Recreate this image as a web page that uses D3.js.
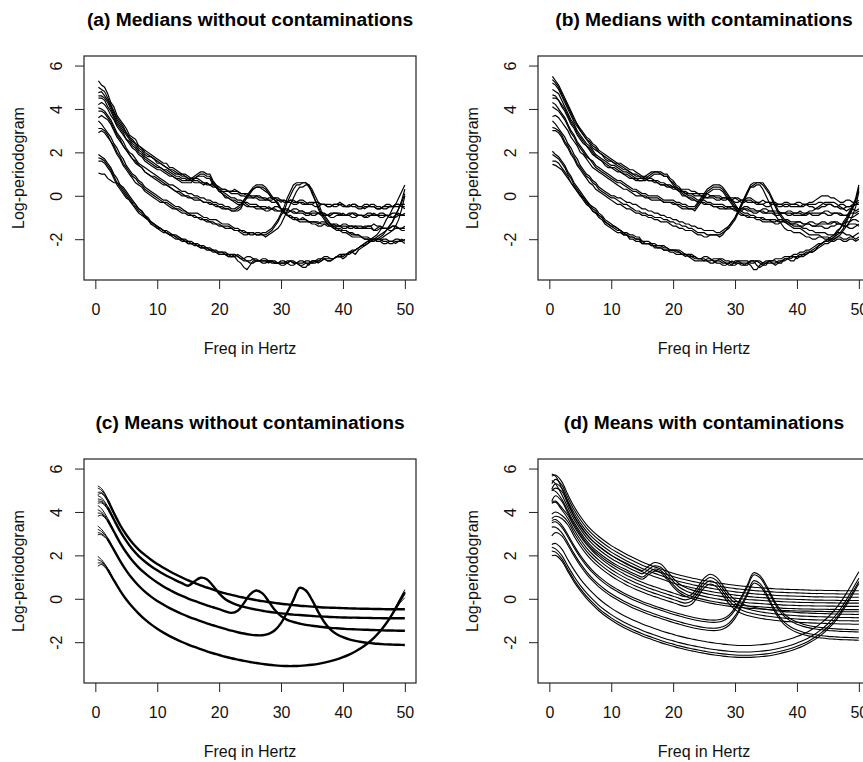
<!DOCTYPE html>
<html><head><meta charset="utf-8">
<script src="https://cdn.jsdelivr.net/npm/d3@7"></script>
<style>
body{margin:0;background:#fff}
svg{display:block}
</style>
</head><body>
<svg id="chart" width="863" height="762"></svg>
<script>
// ---------------- data ----------------
// frequency grid of the smoothed mean curves (panels c, d)
const freqs = [0.4,1,2,3,4,5,6,7,8,9,10,11,12,13,14,15,16,17,18,19,20,21,22,23,24,25,26,27,28,29,30,31,32,33,34,35,36,37,38,39,40,41,42,43,44,45,46,47,48,49,50];
// frequency grid of the running-median curves (panels a, b)
const medFreqs = [0.5,1,1.5,2,2.5,3,3.5,4,4.5,5, 5.5,6,6.5,7,7.5,8,8.5,9,9.5,10, 10.5,11,11.5,12,12.5,13,13.5,14,14.5,15, 15.5,16,16.5,17,17.5,18,18.5,19,19.5,20, 20.5,21,21.5,22,22.5,23,23.5,24,24.5,25, 25.5,26,26.5,27,27.5,28,28.5,29,29.5,30, 30.5,31,31.5,32,32.5,33,33.5,34,34.5,35, 35.5,36,36.5,37,37.5,38,38.5,39,39.5,40, 40.5,41,41.5,42,42.5,43,43.5,44,44.5,45, 45.5,46,46.5,47,47.5,48,48.5,49,49.5,50];
const xTicks = [0,10,20,30,40,50];
const yTicks = [-2,0,2,4,6];
const titles = ["(a) Medians without contaminations","(b) Medians with contaminations","(c) Means without contaminations","(d) Means with contaminations"];
const xLabel = "Freq in Hertz";
const yLabel = "Log-periodogram";

// (a) medians without contaminations
const a1 = [5.3,5.1,5.0,4.7,4.3,4.1,3.7,3.5,3.3,3.1, 2.8,2.7,2.6,2.3,2.2,2.1,2.0,1.9,1.8,1.7, 1.6,1.5,1.5,1.3,1.3,1.2,1.1,1.0,1.0,0.9, 0.8,0.8,0.8,0.7,0.6,0.5,0.5,0.5,0.4,0.3, 0.3,0.3,0.2,0.2,0.3,0.2,0.1,0.1,0.1,0.0, 0.0,0.0,-0.1,-0.1,-0.1,-0.2,-0.2,-0.1,-0.1,-0.2, -0.3,-0.3,-0.2,-0.3,-0.3,-0.2,-0.2,-0.3,-0.4,-0.4, -0.3,-0.3,-0.4,-0.4,-0.5,-0.5,-0.4,-0.4,-0.3,-0.4, -0.5,-0.5,-0.4,-0.4,-0.5,-0.5,-0.6,-0.5,-0.4,-0.4, -0.5,-0.5,-0.6,-0.6,-0.5,-0.5,-0.4,-0.4,-0.5,-0.5];
const a2 = [5.0,4.9,4.8,4.5,4.2,3.9,3.6,3.4,3.2,2.9, 2.7,2.5,2.4,2.3,2.2,2.0,1.9,1.8,1.7,1.6, 1.5,1.4,1.3,1.2,1.2,1.1,1.0,1.0,0.9,0.8, 0.8,0.7,0.7,0.6,0.6,0.6,0.5,0.6,0.5,0.4, 0.3,0.3,0.2,0.2,0.2,0.2,0.1,0.1,0.0,0.0, -0.1,0.0,0.0,-0.1,-0.2,-0.1,-0.1,-0.1,-0.2,-0.2, -0.2,-0.3,-0.2,-0.2,-0.3,-0.3,-0.4,-0.4,-0.3,-0.3, -0.3,-0.3,-0.4,-0.4,-0.5,-0.5,-0.4,-0.4,-0.4,-0.4, -0.5,-0.5,-0.4,-0.4,-0.5,-0.5,-0.4,-0.4,-0.5,-0.5, -0.6,-0.6,-0.5,-0.5,-0.5,-0.5,-0.4,-0.4,-0.5,-0.6];
const a3 = [4.75,4.8,4.6,4.4,4.1,3.8,3.5,3.3,3.1,2.9, 2.7,2.6,2.4,2.2,2.1,1.9,1.8,1.8,1.7,1.5, 1.5,1.4,1.3,1.2,1.1,1.0,1.0,0.9,0.9,0.8, 0.7,0.6,0.6,0.6,0.5,0.6,0.5,0.4,0.4,0.2, 0.2,0.2,0.2,0.1,0.1,0.1,0.0,0.0,-0.1,-0.1, -0.1,-0.1,-0.2,-0.2,-0.2,-0.2,-0.3,-0.3,-0.2,-0.3, -0.2,-0.3,-0.3,-0.4,-0.4,-0.3,-0.3,-0.4,-0.4,-0.4, -0.5,-0.5,-0.4,-0.4,-0.4,-0.4,-0.5,-0.5,-0.4,-0.5, -0.5,-0.4,-0.5,-0.5,-0.6,-0.6,-0.5,-0.5,-0.5,-0.5, -0.6,-0.6,-0.5,-0.4,-0.4,-0.5,-0.5,-0.5,-0.4,-0.4];
const a4 = [4.6,4.6,4.5,4.3,4.0,3.7,3.4,3.2,3.0,2.8, 2.6,2.4,2.3,2.1,2.0,1.8,1.7,1.6,1.5,1.4, 1.3,1.2,1.2,1.1,1.0,0.9,0.9,0.8,0.8,0.7, 0.8,0.9,1.0,1.1,1.1,1.0,1.0,0.7,0.5,0.3, 0.2,0.1,0.0,-0.1,-0.1,-0.2,-0.2,-0.3,-0.3,-0.4, -0.4,-0.4,-0.5,-0.5,-0.5,-0.6,-0.6,-0.5,-0.5,-0.6, -0.6,-0.7,-0.7,-0.6,-0.6,-0.7,-0.7,-0.8,-0.8,-0.7, -0.7,-0.8,-0.8,-0.9,-0.9,-0.8,-0.8,-0.8,-0.8,-0.9, -0.9,-0.8,-0.8,-0.9,-0.9,-0.9,-0.9,-0.8,-0.8,-0.9, -0.9,-1.0,-1.0,-0.9,-0.9,-0.8,-0.8,-0.9,-0.9,-0.8];
const a5 = [4.5,4.5,4.4,4.1,3.9,3.6,3.3,3.1,2.9,2.6, 2.5,2.3,2.2,2.0,1.9,1.7,1.6,1.5,1.4,1.3, 1.3,1.2,1.1,1.0,0.9,0.8,0.8,0.7,0.7,0.7, 0.7,0.8,0.9,1.0,1.0,0.9,0.9,0.6,0.4,0.2, 0.1,0.0,-0.1,-0.2,-0.2,-0.3,-0.3,-0.3,-0.4,-0.5, -0.5,-0.5,-0.5,-0.6,-0.6,-0.5,-0.6,-0.7,-0.7,-0.7, -0.6,-0.6,-0.7,-0.8,-0.8,-0.7,-0.7,-0.8,-0.8,-0.9, -0.9,-0.8,-0.8,-0.8,-0.9,-0.9,-0.8,-0.8,-0.9,-0.8, -0.9,-0.9,-1.0,-1.0,-0.9,-0.9,-1.0,-0.9,-0.9,-0.8, -0.9,-0.9,-0.9,-0.9,-1.0,-1.0,-0.9,-0.8,-0.9,-0.9];
const a6 = [4.2,4.3,4.2,4.0,3.7,3.5,3.2,3.0,2.8,2.6, 2.4,2.2,2.1,1.9,1.8,1.6,1.5,1.4,1.3,1.2, 1.2,1.1,1.0,0.9,0.9,0.8,0.7,0.6,0.6,0.6, 0.6,0.8,0.9,0.9,0.9,0.8,0.8,0.5,0.4,0.2, 0.1,-0.1,-0.1,-0.2,-0.3,-0.4,-0.4,-0.4,-0.5,-0.5, -0.5,-0.6,-0.6,-0.6,-0.7,-0.7,-0.6,-0.6,-0.7,-0.7, -0.8,-0.8,-0.7,-0.7,-0.8,-0.8,-0.8,-0.9,-0.9,-0.8, -0.8,-0.8,-0.9,-0.9,-0.9,-1.0,-1.0,-0.9,-0.9,-0.9, -0.9,-0.9,-0.8,-0.8,-0.9,-0.9,-1.0,-1.0,-0.9,-0.9, -0.9,-0.8,-0.8,-0.9,-0.9,-1.0,-1.0,-0.9,-0.9,-0.9];
const a7 = [4.05,4.0,3.9,3.7,3.5,3.2,2.9,2.7,2.5,2.2, 2.0,1.9,1.7,1.5,1.4,1.3,1.2,1.1,1.0,0.9, 0.8,0.7,0.6,0.5,0.5,0.4,0.3,0.2,0.2,0.1, 0.1,0.0,0.0,-0.1,-0.1,-0.2,-0.2,-0.3,-0.3,-0.4, -0.4,-0.5,-0.5,-0.6,-0.6,-0.5,-0.4,-0.2,0.0,0.2, 0.4,0.5,0.5,0.5,0.4,0.2,0.0,-0.2,-0.3,-0.6, -0.7,-0.9,-0.9,-1.0,-1.0,-1.1,-1.1,-1.1,-1.2,-1.2, -1.2,-1.3,-1.2,-1.2,-1.3,-1.3,-1.3,-1.4,-1.4,-1.3, -1.3,-1.4,-1.4,-1.4,-1.5,-1.5,-1.4,-1.4,-1.4,-1.3, -1.4,-1.4,-1.5,-1.5,-1.5,-1.4,-1.4,-1.5,-1.5,-1.4];
const a8 = [3.9,3.9,3.8,3.6,3.4,3.1,2.8,2.6,2.3,2.1, 1.9,1.7,1.6,1.4,1.3,1.1,1.0,0.9,0.9,0.8, 0.7,0.6,0.5,0.4,0.3,0.2,0.2,0.1,0.0,0.0, -0.1,-0.2,-0.2,-0.2,-0.3,-0.3,-0.3,-0.4,-0.5,-0.5, -0.5,-0.6,-0.6,-0.7,-0.7,-0.6,-0.5,-0.2,0.0,0.2, 0.3,0.4,0.4,0.4,0.3,0.1,-0.1,-0.2,-0.4,-0.6, -0.7,-0.9,-1.0,-1.1,-1.1,-1.1,-1.0,-1.1,-1.2,-1.2, -1.2,-1.2,-1.3,-1.3,-1.4,-1.4,-1.3,-1.3,-1.4,-1.4, -1.4,-1.5,-1.5,-1.4,-1.4,-1.4,-1.5,-1.5,-1.5,-1.6, -1.5,-1.4,-1.5,-1.5,-1.6,-1.6,-1.5,-1.5,-1.5,-1.5];
const a9 = [3.6,3.7,3.6,3.5,3.3,3.0,2.7,2.5,2.3,2.1, 1.9,1.7,1.5,1.4,1.3,1.1,1.0,0.9,0.8,0.7, 0.6,0.5,0.5,0.4,0.3,0.2,0.1,0.0,0.0,-0.1, -0.1,-0.1,-0.1,-0.2,-0.3,-0.3,-0.4,-0.4,-0.4,-0.5, -0.6,-0.6,-0.6,-0.7,-0.7,-0.7,-0.6,-0.3,-0.1,0.1, 0.3,0.4,0.4,0.3,0.2,0.1,-0.1,-0.2,-0.4,-0.6, -0.8,-0.9,-1.0,-1.0,-1.1,-1.2,-1.2,-1.2,-1.2,-1.3, -1.3,-1.4,-1.4,-1.3,-1.3,-1.4,-1.4,-1.4,-1.4,-1.5, -1.5,-1.4,-1.4,-1.5,-1.5,-1.5,-1.5,-1.4,-1.4,-1.6, -1.6,-1.5,-1.5,-1.5,-1.5,-1.4,-1.4,-1.5,-1.6,-1.6];
const a10 = [3.45,3.3,3.1,2.9,2.7,2.4,2.2,1.9,1.7,1.4, 1.2,1.0,0.9,0.7,0.6,0.4,0.3,0.2,0.1,0.0, -0.1,-0.2,-0.2,-0.3,-0.4,-0.5,-0.5,-0.6,-0.7,-0.8, -0.8,-0.8,-0.8,-0.9,-1.0,-1.0,-1.1,-1.1,-1.1,-1.2, -1.3,-1.3,-1.3,-1.4,-1.5,-1.5,-1.6,-1.6,-1.7,-1.7, -1.7,-1.8,-1.8,-1.7,-1.7,-1.6,-1.5,-1.3,-1.1,-0.8, -0.5,-0.1,0.2,0.5,0.6,0.6,0.6,0.6,0.5,0.1, -0.2,-0.5,-0.8,-1.0,-1.2,-1.3,-1.4,-1.5,-1.5,-1.6, -1.6,-1.7,-1.7,-1.8,-1.8,-1.9,-1.9,-1.9,-2.0,-2.0, -2.1,-2.1,-2.0,-2.0,-2.1,-2.1,-2.2,-2.1,-2.0,-2.1];
const a11 = [3.1,3.1,3.0,2.8,2.5,2.3,2.0,1.8,1.5,1.3, 1.1,0.9,0.8,0.6,0.5,0.3,0.2,0.1,0.0,-0.1, -0.2,-0.3,-0.3,-0.4,-0.5,-0.6,-0.6,-0.7,-0.7,-0.8, -0.9,-1.0,-1.0,-1.0,-1.1,-1.2,-1.2,-1.3,-1.3,-1.3, -1.4,-1.5,-1.5,-1.5,-1.6,-1.6,-1.7,-1.8,-1.8,-1.7, -1.7,-1.8,-1.8,-1.8,-1.8,-1.7,-1.6,-1.4,-1.2,-0.9, -0.7,-0.3,0.0,0.3,0.5,0.5,0.6,0.6,0.4,0.2, -0.2,-0.6,-0.9,-1.1,-1.3,-1.4,-1.5,-1.6,-1.6,-1.7, -1.7,-1.8,-1.9,-1.9,-1.9,-1.9,-2.0,-2.0,-2.1,-2.1, -2.0,-2.0,-2.1,-2.1,-2.2,-2.2,-2.1,-2.1,-2.1,-2.2];
const a12 = [2.9,3.0,2.9,2.7,2.5,2.2,1.9,1.7,1.4,1.2, 1.0,0.8,0.6,0.5,0.4,0.2,0.1,0.0,-0.1,-0.2, -0.3,-0.3,-0.4,-0.5,-0.6,-0.6,-0.7,-0.8,-0.8,-0.9, -0.9,-0.9,-1.0,-1.1,-1.1,-1.1,-1.2,-1.2,-1.3,-1.4, -1.4,-1.4,-1.4,-1.5,-1.6,-1.6,-1.6,-1.7,-1.7,-1.8, -1.8,-1.7,-1.7,-1.8,-1.9,-1.8,-1.7,-1.6,-1.5,-1.3, -1.0,-0.7,-0.4,-0.1,0.2,0.4,0.4,0.5,0.5,0.3, 0.0,-0.3,-0.7,-0.9,-1.1,-1.3,-1.5,-1.5,-1.6,-1.6, -1.6,-1.7,-1.8,-1.8,-1.8,-1.9,-2.0,-2.0,-2.0,-2.0, -2.1,-2.1,-2.2,-2.2,-2.1,-2.1,-2.0,-2.0,-2.1,-2.0];
const a13 = [1.9,1.8,1.7,1.5,1.3,1.0,0.8,0.5,0.3,0.1, -0.1,-0.3,-0.4,-0.6,-0.7,-0.9,-1.0,-1.2,-1.3,-1.4, -1.5,-1.6,-1.6,-1.7,-1.8,-1.8,-1.9,-2.0,-2.0,-2.1, -2.1,-2.2,-2.2,-2.3,-2.3,-2.4,-2.5,-2.5,-2.5,-2.6, -2.6,-2.6,-2.7,-2.7,-2.7,-2.8,-2.9,-2.9,-2.8,-2.8, -2.9,-3.0,-3.0,-3.0,-3.0,-3.1,-3.0,-3.0,-3.1,-3.1, -3.1,-3.1,-3.0,-3.0,-3.1,-3.2,-3.3,-3.3,-3.1,-3.0, -3.0,-3.1,-3.0,-2.9,-3.0,-3.0,-2.9,-2.8,-2.8,-2.7, -2.7,-2.6,-2.6,-2.5,-2.4,-2.3,-2.2,-2.1,-2.0,-1.9, -1.8,-1.6,-1.4,-1.1,-0.9,-0.6,-0.4,-0.1,0.2,0.5];
const a14 = [1.75,1.7,1.6,1.4,1.2,0.9,0.6,0.4,0.2,0.0, -0.2,-0.4,-0.5,-0.7,-0.8,-1.0,-1.1,-1.2,-1.3,-1.5, -1.5,-1.6,-1.7,-1.8,-1.8,-1.9,-1.9,-2.0,-2.1,-2.2, -2.2,-2.2,-2.3,-2.4,-2.4,-2.4,-2.5,-2.6,-2.6,-2.6, -2.6,-2.7,-2.8,-2.8,-2.8,-2.7,-2.8,-2.9,-3.0,-3.0, -2.9,-2.9,-3.0,-3.1,-3.1,-3.0,-3.0,-3.1,-3.1,-3.0, -3.0,-3.1,-3.2,-3.2,-3.1,-3.1,-3.1,-3.0,-3.0,-3.1, -3.1,-3.0,-2.9,-2.9,-3.0,-3.0,-2.9,-2.8,-2.8,-2.9, -2.8,-2.6,-2.6,-2.7,-2.5,-2.4,-2.3,-2.2,-2.1,-2.0, -1.9,-1.8,-1.7,-1.6,-1.4,-1.2,-0.9,-0.6,-0.2,0.3];
const a15 = [1.6,1.6,1.5,1.3,1.1,0.8,0.5,0.3,0.1,-0.1, -0.2,-0.4,-0.6,-0.8,-0.9,-1.0,-1.1,-1.3,-1.3,-1.4, -1.5,-1.6,-1.7,-1.8,-1.9,-2.0,-2.0,-2.0,-2.1,-2.1, -2.2,-2.3,-2.3,-2.3,-2.4,-2.5,-2.5,-2.5,-2.6,-2.7, -2.7,-2.7,-2.7,-2.8,-2.8,-3.0,-3.1,-3.3,-3.4,-3.2, -3.0,-3.0,-3.0,-2.9,-2.9,-3.0,-3.1,-3.1,-3.1,-3.2, -3.2,-3.1,-3.0,-3.1,-3.1,-3.0,-3.0,-3.1,-3.2,-3.0, -3.0,-3.0,-3.0,-2.9,-2.9,-2.9,-2.9,-2.8,-2.7,-2.7, -2.7,-2.6,-2.5,-2.5,-2.4,-2.3,-2.3,-2.2,-2.1,-2.0, -2.0,-1.9,-1.8,-1.6,-1.4,-1.2,-0.9,-0.6,-0.3,0.1];
const a16 = [1.05,1.0,1.0,0.8,0.7,0.6,0.6,0.5,0.4,0.2, 0.0,-0.2,-0.4,-0.6,-0.7,-0.9,-1.1,-1.3,-1.4,-1.5, -1.6,-1.7,-1.7,-1.8,-1.8,-1.9,-2.0,-2.1,-2.1,-2.2, -2.2,-2.2,-2.3,-2.4,-2.4,-2.4,-2.4,-2.5,-2.6,-2.7, -2.7,-2.7,-2.8,-2.8,-2.7,-2.8,-2.9,-3.0,-3.0,-3.1, -3.1,-3.0,-3.0,-3.0,-3.0,-3.0,-3.0,-3.1,-3.1,-3.1, -3.1,-3.0,-3.0,-3.1,-3.1,-3.2,-3.2,-3.1,-3.1,-3.1, -3.0,-2.9,-2.9,-2.8,-2.8,-2.9,-2.9,-2.8,-2.8,-2.8, -2.7,-2.7,-2.6,-2.5,-2.4,-2.3,-2.2,-2.1,-2.1,-2.0, -2.0,-2.0,-1.9,-1.8,-1.7,-1.6,-1.4,-1.1,-0.6,0.0];

// (b) medians with contaminations
const b1 = [5.5,5.3,5.1,4.8,4.5,4.2,3.9,3.6,3.3,3.1, 2.9,2.7,2.6,2.4,2.3,2.1,2.0,1.9,1.8,1.7, 1.6,1.5,1.5,1.4,1.3,1.2,1.2,1.1,1.0,0.9, 0.9,0.8,0.8,0.7,0.7,0.6,0.6,0.5,0.5,0.4, 0.4,0.3,0.3,0.3,0.3,0.2,0.2,0.1,0.1,0.1, 0.1,0.0,0.0,0.0,0.0,-0.1,-0.1,-0.1,-0.2,-0.1, -0.1,-0.2,-0.2,-0.1,-0.1,-0.2,-0.3,-0.3,-0.2,-0.3, -0.3,-0.3,-0.3,-0.4,-0.4,-0.3,-0.3,-0.4,-0.4,-0.3, -0.3,-0.4,-0.4,-0.3,-0.3,-0.2,-0.1,0.0,0.0,0.0, -0.1,-0.1,-0.2,-0.3,-0.3,-0.2,-0.2,-0.3,-0.3,-0.2];
const b2 = [5.35,5.2,5.0,4.7,4.4,4.1,3.8,3.5,3.3,3.0, 2.8,2.6,2.5,2.3,2.2,2.0,1.9,1.8,1.7,1.6, 1.5,1.5,1.4,1.3,1.2,1.1,1.0,1.0,0.9,0.9, 0.8,0.7,0.7,0.7,0.6,0.5,0.5,0.4,0.4,0.4, 0.3,0.2,0.2,0.2,0.1,0.1,0.1,0.1,0.0,-0.1, -0.1,0.0,0.0,-0.1,-0.1,-0.2,-0.2,-0.1,-0.1,-0.1, -0.2,-0.3,-0.3,-0.2,-0.2,-0.3,-0.3,-0.4,-0.4,-0.3, -0.3,-0.4,-0.4,-0.4,-0.4,-0.5,-0.5,-0.4,-0.4,-0.4, -0.5,-0.5,-0.4,-0.4,-0.4,-0.4,-0.3,-0.3,-0.4,-0.4, -0.4,-0.5,-0.5,-0.4,-0.4,-0.5,-0.5,-0.4,-0.4,-0.3];
const b3 = [5.2,5.1,4.9,4.6,4.3,4.0,3.7,3.4,3.2,3.0, 2.8,2.6,2.4,2.2,2.1,2.0,1.9,1.7,1.6,1.6, 1.5,1.4,1.3,1.2,1.2,1.1,1.0,0.9,0.9,0.8, 0.8,0.7,0.7,0.6,0.6,0.5,0.5,0.5,0.4,0.3, 0.3,0.3,0.2,0.1,0.1,0.1,0.0,0.0,0.0,0.0, -0.1,-0.1,-0.1,-0.2,-0.2,-0.1,-0.1,-0.2,-0.2,-0.3, -0.3,-0.2,-0.2,-0.3,-0.3,-0.3,-0.4,-0.4,-0.4,-0.5, -0.5,-0.4,-0.4,-0.5,-0.5,-0.4,-0.4,-0.5,-0.5,-0.5, -0.5,-0.4,-0.4,-0.5,-0.5,-0.6,-0.6,-0.5,-0.5,-0.4, -0.4,-0.5,-0.5,-0.6,-0.6,-0.5,-0.5,-0.5,-0.4,-0.4];
const b4 = [4.9,4.8,4.7,4.4,4.1,3.8,3.5,3.3,3.0,2.8, 2.6,2.4,2.3,2.1,1.9,1.8,1.7,1.6,1.5,1.4, 1.4,1.3,1.2,1.1,1.1,1.0,0.9,0.8,0.8,0.8, 0.9,1.0,1.1,1.1,1.1,1.1,1.0,1.0,0.8,0.7, 0.5,0.4,0.2,0.1,0.0,0.0,-0.1,-0.2,-0.2,-0.2, -0.3,-0.3,-0.4,-0.4,-0.4,-0.4,-0.5,-0.5,-0.5,-0.5, -0.6,-0.6,-0.5,-0.5,-0.6,-0.6,-0.7,-0.7,-0.6,-0.6, -0.7,-0.7,-0.7,-0.7,-0.8,-0.8,-0.7,-0.7,-0.8,-0.8, -0.7,-0.8,-0.8,-0.7,-0.7,-0.6,-0.5,-0.4,-0.3,-0.3, -0.3,-0.3,-0.4,-0.5,-0.6,-0.7,-0.6,-0.6,-0.7,-0.6];
const b5 = [4.65,4.6,4.4,4.2,4.0,3.7,3.4,3.2,2.9,2.7, 2.5,2.3,2.2,2.0,1.8,1.7,1.6,1.5,1.4,1.3, 1.3,1.2,1.1,1.0,1.0,0.9,0.8,0.8,0.7,0.7, 0.8,0.9,1.0,1.1,1.1,1.0,0.9,0.9,0.7,0.6, 0.4,0.3,0.1,0.0,-0.1,-0.1,-0.2,-0.3,-0.3,-0.3, -0.4,-0.4,-0.5,-0.5,-0.5,-0.5,-0.6,-0.6,-0.6,-0.6, -0.7,-0.7,-0.6,-0.6,-0.7,-0.7,-0.7,-0.7,-0.8,-0.8, -0.7,-0.7,-0.8,-0.8,-0.8,-0.8,-0.9,-0.9,-0.8,-0.8, -0.8,-0.9,-0.9,-0.8,-0.8,-0.8,-0.8,-0.8,-0.7,-0.7, -0.8,-0.8,-0.8,-0.8,-0.9,-0.9,-0.8,-0.8,-0.8,-0.7];
const b6 = [4.5,4.5,4.4,4.1,3.9,3.6,3.3,3.1,2.8,2.6, 2.4,2.3,2.1,1.9,1.8,1.7,1.6,1.4,1.3,1.3, 1.2,1.1,1.1,1.0,0.9,0.8,0.8,0.7,0.7,0.7, 0.7,0.8,0.9,1.0,1.0,1.0,0.9,0.9,0.7,0.5, 0.3,0.2,0.0,0.0,-0.1,-0.2,-0.2,-0.3,-0.3,-0.4, -0.4,-0.4,-0.5,-0.5,-0.6,-0.6,-0.6,-0.5,-0.6,-0.7, -0.7,-0.6,-0.6,-0.7,-0.7,-0.8,-0.8,-0.7,-0.7,-0.8, -0.8,-0.8,-0.9,-0.9,-0.8,-0.8,-0.8,-0.8,-0.9,-0.9, -0.9,-0.9,-0.8,-0.8,-0.9,-0.9,-0.9,-0.8,-0.8,-0.9, -0.9,-0.8,-0.8,-0.9,-0.9,-0.9,-1.0,-1.0,-0.9,-0.8];
const b7 = [4.3,4.2,4.0,3.8,3.6,3.3,3.0,2.8,2.5,2.3, 2.1,1.9,1.7,1.6,1.4,1.3,1.2,1.1,1.0,0.9, 0.8,0.7,0.7,0.6,0.5,0.4,0.3,0.3,0.2,0.1, 0.1,0.0,0.0,0.0,0.0,-0.1,-0.2,-0.2,-0.2,-0.2, -0.3,-0.3,-0.4,-0.4,-0.5,-0.5,-0.5,-0.3,-0.1,0.1, 0.3,0.4,0.5,0.5,0.5,0.4,0.2,0.0,-0.2,-0.4, -0.6,-0.7,-0.8,-0.8,-0.9,-0.9,-1.0,-1.0,-1.0,-1.1, -1.1,-1.1,-1.1,-1.2,-1.2,-1.1,-1.1,-1.2,-1.2,-1.2, -1.2,-1.3,-1.3,-1.2,-1.2,-1.3,-1.3,-1.2,-1.2,-1.3, -1.3,-1.2,-1.2,-1.3,-1.3,-1.2,-1.2,-1.1,-1.1,-1.2];
const b8 = [4.1,4.0,3.9,3.7,3.5,3.2,2.9,2.7,2.4,2.2, 2.0,1.8,1.7,1.5,1.3,1.2,1.1,1.0,0.9,0.8, 0.7,0.6,0.6,0.5,0.4,0.3,0.2,0.2,0.1,0.0, 0.0,-0.1,-0.1,-0.1,-0.1,-0.2,-0.3,-0.3,-0.3,-0.3, -0.4,-0.4,-0.5,-0.5,-0.6,-0.6,-0.6,-0.4,-0.2,0.0, 0.2,0.3,0.4,0.4,0.4,0.3,0.1,-0.1,-0.3,-0.5, -0.7,-0.8,-0.9,-0.9,-1.0,-1.0,-1.0,-1.0,-1.1,-1.1, -1.1,-1.2,-1.2,-1.1,-1.1,-1.2,-1.2,-1.3,-1.3,-1.2, -1.2,-1.3,-1.3,-1.3,-1.4,-1.4,-1.3,-1.3,-1.3,-1.3, -1.2,-1.2,-1.3,-1.3,-1.4,-1.4,-1.3,-1.3,-1.3,-1.4];
const b9 = [3.65,3.7,3.6,3.4,3.2,3.0,2.7,2.5,2.3,2.0, 1.9,1.7,1.5,1.3,1.2,1.1,1.0,0.9,0.8,0.7, 0.6,0.5,0.4,0.3,0.3,0.2,0.1,0.0,0.0,0.0, -0.1,-0.1,-0.2,-0.2,-0.2,-0.2,-0.3,-0.3,-0.3,-0.4, -0.4,-0.5,-0.6,-0.6,-0.6,-0.6,-0.7,-0.5,-0.3,-0.1, 0.1,0.2,0.3,0.3,0.3,0.2,0.0,-0.2,-0.4,-0.6, -0.8,-0.9,-0.9,-1.0,-1.0,-1.0,-1.1,-1.1,-1.2,-1.2, -1.2,-1.2,-1.3,-1.3,-1.2,-1.2,-1.3,-1.3,-1.3,-1.3, -1.4,-1.4,-1.3,-1.3,-1.4,-1.4,-1.4,-1.4,-1.5,-1.5, -1.4,-1.4,-1.3,-1.3,-1.4,-1.4,-1.5,-1.5,-1.4,-1.3];
const b10 = [3.45,3.3,3.1,2.9,2.7,2.4,2.2,1.9,1.7,1.4, 1.2,1.0,0.9,0.7,0.6,0.4,0.3,0.2,0.1,0.0, 0.0,-0.1,-0.1,-0.2,-0.3,-0.3,-0.4,-0.4,-0.5,-0.6, -0.6,-0.7,-0.7,-0.8,-0.8,-0.9,-0.9,-1.0,-1.0,-1.1, -1.1,-1.2,-1.2,-1.3,-1.3,-1.4,-1.4,-1.5,-1.5,-1.6, -1.6,-1.6,-1.6,-1.7,-1.7,-1.6,-1.5,-1.4,-1.2,-1.0, -0.7,-0.4,-0.1,0.2,0.5,0.6,0.6,0.6,0.6,0.4, 0.2,-0.1,-0.4,-0.7,-0.9,-1.1,-1.2,-1.3,-1.4,-1.4, -1.4,-1.5,-1.5,-1.6,-1.6,-1.7,-1.7,-1.7,-1.7,-1.8, -1.8,-1.8,-1.7,-1.7,-1.7,-1.8,-1.8,-1.9,-1.8,-1.7];
const b11 = [3.15,3.1,3.0,2.8,2.5,2.3,2.0,1.8,1.5,1.3, 1.1,0.9,0.8,0.6,0.5,0.3,0.2,0.1,0.0,-0.1, -0.1,-0.2,-0.3,-0.4,-0.4,-0.5,-0.6,-0.7,-0.7,-0.8, -0.8,-0.9,-0.9,-1.0,-1.0,-1.0,-1.1,-1.1,-1.2,-1.2, -1.3,-1.3,-1.4,-1.4,-1.5,-1.5,-1.6,-1.7,-1.7,-1.7, -1.8,-1.8,-1.8,-1.8,-1.9,-1.8,-1.6,-1.5,-1.3,-1.1, -0.8,-0.5,-0.2,0.1,0.4,0.5,0.6,0.6,0.5,0.3, 0.1,-0.2,-0.5,-0.8,-1.0,-1.2,-1.3,-1.4,-1.5,-1.5, -1.5,-1.6,-1.7,-1.8,-1.8,-1.8,-1.8,-1.9,-1.9,-1.9, -2.0,-2.0,-1.9,-1.9,-2.0,-2.0,-1.9,-1.9,-2.0,-1.9];
const b12 = [3.0,3.0,2.9,2.7,2.4,2.2,1.9,1.7,1.4,1.2, 1.0,0.8,0.6,0.5,0.3,0.2,0.1,0.0,-0.1,-0.2, -0.3,-0.4,-0.4,-0.5,-0.6,-0.6,-0.7,-0.8,-0.8,-0.9, -0.9,-1.0,-1.0,-1.1,-1.1,-1.2,-1.2,-1.2,-1.3,-1.4, -1.4,-1.5,-1.5,-1.6,-1.6,-1.6,-1.7,-1.8,-1.8,-1.9, -1.9,-1.8,-1.8,-1.8,-1.8,-1.7,-1.6,-1.4,-1.2,-1.0, -0.7,-0.4,-0.1,0.2,0.4,0.4,0.5,0.5,0.3,0.0, -0.3,-0.6,-0.9,-1.1,-1.3,-1.5,-1.6,-1.6,-1.7,-1.7, -1.7,-1.8,-1.9,-1.9,-2.0,-2.0,-1.9,-1.9,-2.0,-2.0, -2.1,-2.1,-2.0,-2.0,-2.1,-2.1,-2.0,-2.0,-2.1,-2.0];
const b13 = [2.05,1.9,1.8,1.6,1.4,1.1,0.9,0.6,0.4,0.2, 0.0,-0.2,-0.4,-0.5,-0.6,-0.8,-0.9,-1.1,-1.2,-1.3, -1.4,-1.5,-1.6,-1.7,-1.7,-1.8,-1.8,-1.9,-1.9,-2.1, -2.1,-2.1,-2.2,-2.2,-2.3,-2.3,-2.3,-2.4,-2.5,-2.5, -2.5,-2.5,-2.6,-2.7,-2.7,-2.8,-2.8,-2.9,-2.9,-2.8, -2.8,-2.9,-3.0,-3.0,-2.9,-2.9,-3.0,-3.0,-3.1,-3.1, -3.0,-3.0,-3.0,-3.0,-3.1,-3.1,-3.0,-3.0,-3.1,-3.1, -3.0,-3.0,-2.9,-2.9,-2.9,-2.8,-2.8,-2.8,-2.7,-2.7, -2.6,-2.6,-2.5,-2.5,-2.4,-2.3,-2.2,-2.2,-2.1,-2.0, -1.9,-1.8,-1.6,-1.5,-1.2,-1.0,-0.7,-0.5,-0.1,0.5];
const b14 = [1.9,1.8,1.7,1.5,1.3,1.0,0.8,0.5,0.3,0.1, -0.1,-0.3,-0.4,-0.6,-0.7,-0.9,-1.0,-1.2,-1.3,-1.4, -1.5,-1.6,-1.6,-1.8,-1.8,-1.9,-1.9,-2.0,-2.0,-2.2, -2.2,-2.2,-2.2,-2.4,-2.4,-2.4,-2.5,-2.5,-2.5,-2.5, -2.6,-2.6,-2.7,-2.7,-2.8,-2.8,-2.9,-2.9,-2.9,-2.9, -3.0,-3.1,-3.1,-3.0,-3.0,-3.1,-3.1,-3.1,-3.2,-3.2, -3.1,-3.1,-3.2,-3.2,-3.0,-3.0,-3.2,-3.3,-3.2,-3.1, -3.1,-3.1,-3.1,-3.0,-3.0,-3.0,-2.9,-2.9,-2.8,-2.8, -2.7,-2.7,-2.6,-2.6,-2.5,-2.4,-2.3,-2.2,-2.1,-2.1, -2.0,-1.9,-1.7,-1.5,-1.3,-1.1,-0.8,-0.5,-0.2,0.4];
const b15 = [1.45,1.4,1.3,1.2,1.0,0.8,0.6,0.4,0.2,0.0, -0.2,-0.4,-0.5,-0.7,-0.8,-1.0,-1.1,-1.3,-1.4,-1.5, -1.6,-1.7,-1.7,-1.8,-1.8,-2.0,-2.0,-2.1,-2.1,-2.2, -2.2,-2.2,-2.3,-2.3,-2.4,-2.4,-2.5,-2.5,-2.6,-2.6, -2.7,-2.7,-2.7,-2.7,-2.8,-2.9,-3.0,-3.0,-3.0,-3.0, -2.9,-2.9,-3.0,-3.1,-3.1,-3.2,-3.2,-3.1,-3.0,-3.1, -3.1,-3.2,-3.2,-3.1,-3.2,-3.4,-3.4,-3.2,-3.1,-3.0, -3.0,-3.1,-3.2,-3.1,-3.0,-2.9,-2.9,-3.0,-3.0,-2.8, -2.8,-2.8,-2.7,-2.6,-2.6,-2.5,-2.4,-2.3,-2.2,-2.2, -2.1,-2.0,-1.9,-1.8,-1.6,-1.4,-1.2,-0.9,-0.5,0.2];
const b16 = [1.6,1.6,1.5,1.3,1.1,0.9,0.6,0.4,0.2,0.0, -0.1,-0.3,-0.5,-0.7,-0.8,-0.9,-1.0,-1.2,-1.3,-1.4, -1.4,-1.5,-1.6,-1.7,-1.8,-1.9,-1.9,-2.0,-2.0,-2.1, -2.2,-2.2,-2.3,-2.3,-2.3,-2.3,-2.4,-2.4,-2.5,-2.5, -2.5,-2.6,-2.7,-2.8,-2.7,-2.7,-2.8,-2.9,-2.9,-3.0, -3.0,-3.0,-2.9,-2.9,-2.9,-3.0,-3.1,-3.2,-3.2,-3.0, -3.0,-3.1,-3.1,-3.1,-3.0,-3.0,-3.0,-3.1,-3.2,-3.2, -3.0,-3.0,-3.0,-3.1,-3.1,-2.9,-2.9,-2.8,-2.8,-2.9, -2.8,-2.7,-2.7,-2.6,-2.6,-2.5,-2.3,-2.2,-2.1,-2.1, -2.0,-1.9,-1.8,-1.7,-1.5,-1.2,-0.9,-0.6,-0.2,0.3];

// (c) means without contaminations: one smooth body per group, replicate heads (f = 0.4, 1, 2) and tails (f = 48, 49, 50)
const cBody0  = [5.0,4.95,4.55,3.95,3.4,2.95,2.57,2.27,2.02,1.8, 1.6,1.43,1.27,1.12,0.98,0.85,0.73,0.62,0.52,0.42, 0.33,0.25,0.18,0.11,0.05,-0.01,-0.06,-0.11,-0.15,-0.19, -0.23,-0.26,-0.29,-0.32,-0.34,-0.36,-0.38,-0.4,-0.41,-0.42, -0.43,-0.44,-0.45,-0.46,-0.46,-0.47,-0.47,-0.48,-0.48,-0.48, -0.48];
const cBody17 = [4.6,4.55,4.2,3.65,3.12,2.67,2.28,1.97,1.72,1.5, 1.31,1.14,0.99,0.85,0.72,0.6,0.8,0.97,0.9,0.6, 0.25,-0.02,-0.18,-0.29,-0.37,-0.44,-0.5,-0.55,-0.6,-0.64, -0.67,-0.7,-0.73,-0.75,-0.77,-0.79,-0.81,-0.82,-0.84,-0.85, -0.86,-0.87,-0.87,-0.88,-0.88,-0.89,-0.89,-0.9,-0.9,-0.9, -0.9];
const cBody26 = [4.0,3.95,3.62,3.1,2.58,2.13,1.75,1.44,1.18,0.95, 0.75,0.57,0.41,0.26,0.13,0.01,-0.1,-0.2,-0.3,-0.39, -0.48,-0.58,-0.65,-0.55,-0.2,0.2,0.38,0.25,-0.12,-0.52, -0.8,-0.97,-1.07,-1.14,-1.2,-1.24,-1.28,-1.31,-1.34,-1.36, -1.38,-1.4,-1.41,-1.42,-1.43,-1.44,-1.45,-1.46,-1.46,-1.47, -1.47];
const cBody33 = [3.1,3.05,2.75,2.25,1.75,1.3,0.92,0.6,0.33,0.1, -0.1,-0.27,-0.43,-0.57,-0.7,-0.82,-0.93,-1.03,-1.13,-1.22, -1.31,-1.39,-1.47,-1.54,-1.6,-1.65,-1.68,-1.68,-1.62,-1.45, -1.12,-0.62,-0.05,0.5,0.38,-0.05,-0.6,-1.08,-1.42,-1.63, -1.77,-1.87,-1.94,-1.99,-2.03,-2.06,-2.08,-2.1,-2.11,-2.12, -2.13];
const cBody50 = [1.75,1.68,1.35,0.85,0.38,-0.03,-0.38,-0.68,-0.95,-1.18, -1.38,-1.56,-1.72,-1.86,-1.99,-2.11,-2.22,-2.32,-2.42,-2.51, -2.59,-2.67,-2.74,-2.8,-2.86,-2.91,-2.96,-3.0,-3.04,-3.07, -3.09,-3.1,-3.1,-3.09,-3.07,-3.04,-3.0,-2.94,-2.87,-2.79, -2.69,-2.57,-2.43,-2.26,-2.05,-1.8,-1.5,-1.13,-0.69,-0.2, 0.3];
const cHeads0  = [[5.2,5.08,4.6],[5.1,5.0,4.57],[4.9,4.9,4.52],[4.8,4.85,4.5]];
const cHeads17 = [[4.75,4.65,4.25],[4.6,4.55,4.2],[4.5,4.48,4.16],[4.4,4.42,4.13]];
const cHeads26 = [[4.3,4.15,3.7],[4.1,4.0,3.64],[3.95,3.92,3.6],[3.8,3.85,3.57]];
const cHeads33 = [[3.35,3.2,2.8],[3.2,3.1,2.77],[3.05,3.0,2.73],[2.95,2.95,2.7]];
const cHeads50 = [[1.95,1.8,1.4],[1.8,1.72,1.37],[1.65,1.64,1.33],[1.5,1.58,1.3]];
const cTails50 = [[-0.65,-0.1,0.42],[-0.68,-0.17,0.32],[-0.7,-0.22,0.2],[-0.72,-0.27,0.05]];

// (d) means with contaminations
const m1 = [5.65,5.7,5.4,4.8,4.25,3.8,3.42,3.12,2.87,2.65, 2.45,2.28,2.12,1.97,1.83,1.7,1.58,1.47,1.37,1.27, 1.18,1.1,1.03,0.96,0.9,0.84,0.79,0.74,0.7,0.66, 0.62,0.59,0.56,0.53,0.51,0.49,0.47,0.45,0.44,0.43, 0.42,0.41,0.4,0.39,0.39,0.38,0.38,0.37,0.37,0.37, 0.37];
const m2 = [5.3,5.5,5.25,4.65,4.1,3.65,3.27,2.97,2.72,2.5, 2.3,2.13,1.97,1.82,1.68,1.55,1.43,1.32,1.22,1.12, 1.03,0.95,0.88,0.81,0.75,0.69,0.64,0.59,0.55,0.51, 0.47,0.44,0.41,0.38,0.36,0.34,0.32,0.3,0.29,0.28, 0.27,0.26,0.25,0.24,0.24,0.23,0.23,0.22,0.22,0.22, 0.22];
const m3 = [5.05,5.3,5.1,4.5,3.95,3.5,3.12,2.82,2.57,2.35, 2.15,1.98,1.82,1.67,1.53,1.4,1.28,1.17,1.07,0.97, 0.88,0.8,0.73,0.66,0.6,0.54,0.49,0.44,0.4,0.36, 0.32,0.29,0.26,0.23,0.21,0.19,0.17,0.15,0.14,0.13, 0.12,0.11,0.1,0.09,0.09,0.08,0.08,0.07,0.07,0.07, 0.07];
const m4 = [4.98,5.1,4.95,4.35,3.8,3.35,2.97,2.67,2.42,2.2, 2.0,1.83,1.67,1.52,1.38,1.25,1.13,1.02,0.92,0.82, 0.73,0.65,0.58,0.51,0.45,0.39,0.34,0.29,0.25,0.21, 0.17,0.14,0.11,0.08,0.06,0.04,0.02,0.0,-0.01,-0.02, -0.03,-0.04,-0.05,-0.06,-0.06,-0.07,-0.07,-0.08,-0.08,-0.08, -0.08];
const m5 = [5.75,5.65,5.1,4.45,3.82,3.37,2.98,2.67,2.42,2.2, 2.01,1.84,1.69,1.55,1.42,1.3,1.5,1.67,1.6,1.3, 0.95,0.68,0.52,0.41,0.33,0.26,0.2,0.15,0.1,0.06, 0.03,0.0,-0.03,-0.05,-0.07,-0.09,-0.11,-0.12,-0.14,-0.15, -0.16,-0.17,-0.17,-0.18,-0.18,-0.19,-0.19,-0.2,-0.2,-0.2, -0.2];
const m6 = [5.45,5.3,4.8,4.2,3.67,3.22,2.83,2.52,2.27,2.05, 1.86,1.69,1.54,1.4,1.27,1.15,1.35,1.52,1.45,1.15, 0.8,0.53,0.37,0.26,0.18,0.11,0.05,0.0,-0.05,-0.09, -0.12,-0.15,-0.18,-0.2,-0.22,-0.24,-0.26,-0.27,-0.29,-0.3, -0.31,-0.32,-0.32,-0.33,-0.33,-0.34,-0.34,-0.35,-0.35,-0.35, -0.35];
const m7 = [5.0,4.95,4.6,4.05,3.52,3.07,2.68,2.37,2.12,1.9, 1.71,1.54,1.39,1.25,1.12,1.0,1.2,1.37,1.3,1.0, 0.65,0.38,0.22,0.11,0.03,-0.04,-0.1,-0.15,-0.2,-0.24, -0.27,-0.3,-0.33,-0.35,-0.37,-0.39,-0.41,-0.42,-0.44,-0.45, -0.46,-0.47,-0.47,-0.48,-0.48,-0.49,-0.49,-0.5,-0.5,-0.5, -0.5];
const m8 = [4.5,4.75,4.5,3.95,3.42,2.97,2.58,2.27,2.02,1.8, 1.61,1.44,1.29,1.15,1.02,0.9,1.1,1.27,1.2,0.9, 0.55,0.28,0.12,0.01,-0.07,-0.14,-0.2,-0.25,-0.3,-0.34, -0.37,-0.4,-0.43,-0.45,-0.47,-0.49,-0.51,-0.52,-0.54,-0.55, -0.56,-0.57,-0.57,-0.58,-0.58,-0.59,-0.59,-0.6,-0.6,-0.6, -0.6];
const m9 = [4.45,4.5,4.2,3.85,3.33,2.88,2.5,2.19,1.93,1.7, 1.5,1.32,1.16,1.01,0.88,0.76,0.65,0.55,0.45,0.36, 0.27,0.17,0.1,0.2,0.55,0.95,1.13,1.0,0.63,0.23, -0.05,-0.22,-0.32,-0.39,-0.45,-0.49,-0.53,-0.56,-0.59,-0.61, -0.63,-0.65,-0.66,-0.67,-0.68,-0.69,-0.7,-0.71,-0.71,-0.72, -0.72];
const m10 = [4.4,4.45,4.1,3.7,3.18,2.73,2.35,2.04,1.78,1.55, 1.35,1.17,1.01,0.86,0.73,0.61,0.5,0.4,0.3,0.21, 0.12,0.02,-0.05,0.05,0.4,0.8,0.98,0.85,0.48,0.08, -0.2,-0.37,-0.47,-0.54,-0.6,-0.64,-0.68,-0.71,-0.74,-0.76, -0.78,-0.8,-0.81,-0.82,-0.83,-0.84,-0.85,-0.86,-0.86,-0.87, -0.87];
const m11 = [3.9,4.0,3.85,3.55,3.03,2.58,2.2,1.89,1.63,1.4, 1.2,1.02,0.86,0.71,0.58,0.46,0.35,0.25,0.15,0.06, -0.03,-0.13,-0.2,-0.1,0.25,0.65,0.83,0.7,0.33,-0.07, -0.35,-0.52,-0.62,-0.69,-0.75,-0.79,-0.83,-0.86,-0.89,-0.91, -0.93,-0.95,-0.96,-0.97,-0.98,-0.99,-1.0,-1.01,-1.01,-1.02, -1.02];
const m12 = [3.7,3.8,3.7,3.4,2.88,2.43,2.05,1.74,1.48,1.25, 1.05,0.87,0.71,0.56,0.43,0.31,0.2,0.1,0.0,-0.09, -0.18,-0.28,-0.35,-0.25,0.1,0.5,0.68,0.55,0.18,-0.22, -0.5,-0.67,-0.77,-0.84,-0.9,-0.94,-0.98,-1.01,-1.04,-1.06, -1.08,-1.1,-1.11,-1.12,-1.13,-1.14,-1.15,-1.16,-1.16,-1.17, -1.17];
const m13 = [3.6,3.65,3.4,2.95,2.45,2.0,1.62,1.3,1.03,0.8, 0.6,0.43,0.27,0.13,0.0,-0.12,-0.23,-0.33,-0.43,-0.52, -0.61,-0.69,-0.77,-0.84,-0.9,-0.95,-0.98,-0.98,-0.92,-0.75, -0.42,0.08,0.65,1.2,1.08,0.65,0.1,-0.38,-0.72,-0.93, -1.07,-1.17,-1.24,-1.29,-1.33,-1.36,-1.38,-1.4,-1.41,-1.42, -1.43];
const m14 = [3.5,3.55,3.3,2.85,2.35,1.9,1.52,1.2,0.93,0.7, 0.5,0.33,0.17,0.03,-0.1,-0.22,-0.33,-0.43,-0.53,-0.62, -0.71,-0.79,-0.87,-0.94,-1.0,-1.05,-1.08,-1.08,-1.02,-0.85, -0.52,-0.02,0.55,1.1,0.98,0.55,0.0,-0.48,-0.82,-1.03, -1.17,-1.27,-1.34,-1.39,-1.43,-1.46,-1.48,-1.5,-1.51,-1.52, -1.53];
const m15 = [3.3,3.3,3.05,2.58,2.08,1.63,1.25,0.93,0.66,0.43, 0.23,0.06,-0.1,-0.24,-0.37,-0.49,-0.6,-0.7,-0.8,-0.89, -0.98,-1.06,-1.14,-1.21,-1.27,-1.32,-1.35,-1.35,-1.29,-1.12, -0.79,-0.29,0.28,0.83,0.71,0.28,-0.27,-0.75,-1.09,-1.3, -1.44,-1.54,-1.61,-1.66,-1.7,-1.73,-1.75,-1.77,-1.78,-1.79, -1.8];
const m16 = [2.9,3.05,2.9,2.47,1.97,1.52,1.14,0.82,0.55,0.32, 0.12,-0.05,-0.21,-0.35,-0.48,-0.6,-0.71,-0.81,-0.91,-1.0, -1.09,-1.17,-1.25,-1.32,-1.38,-1.43,-1.46,-1.46,-1.4,-1.23, -0.9,-0.4,0.17,0.72,0.6,0.17,-0.38,-0.86,-1.2,-1.41, -1.55,-1.65,-1.72,-1.77,-1.81,-1.84,-1.86,-1.88,-1.89,-1.9, -1.91];
const m17 = [2.5,2.55,2.3,1.8,1.33,0.92,0.57,0.27,0.0,-0.23, -0.43,-0.61,-0.77,-0.91,-1.04,-1.16,-1.27,-1.37,-1.47,-1.56, -1.64,-1.72,-1.79,-1.85,-1.91,-1.96,-2.01,-2.05,-2.09,-2.12, -2.14,-2.15,-2.15,-2.14,-2.12,-2.09,-2.05,-1.99,-1.92,-1.84, -1.74,-1.62,-1.48,-1.31,-1.1,-0.85,-0.55,-0.18,0.26,0.75, 1.25];
const m18 = [2.37,2.3,2.0,1.5,1.03,0.62,0.27,-0.03,-0.3,-0.53, -0.73,-0.91,-1.07,-1.21,-1.34,-1.46,-1.57,-1.67,-1.77,-1.86, -1.94,-2.02,-2.09,-2.15,-2.21,-2.26,-2.31,-2.35,-2.39,-2.42, -2.44,-2.45,-2.45,-2.44,-2.42,-2.39,-2.35,-2.29,-2.22,-2.14, -2.04,-1.92,-1.78,-1.61,-1.4,-1.15,-0.85,-0.48,-0.04,0.45, 0.95];
const m19 = [2.2,2.15,1.85,1.35,0.88,0.47,0.12,-0.18,-0.45,-0.68, -0.88,-1.06,-1.22,-1.36,-1.49,-1.61,-1.72,-1.82,-1.92,-2.01, -2.09,-2.17,-2.24,-2.3,-2.36,-2.41,-2.46,-2.5,-2.54,-2.57, -2.59,-2.6,-2.6,-2.59,-2.57,-2.54,-2.5,-2.44,-2.37,-2.29, -2.19,-2.07,-1.93,-1.76,-1.55,-1.3,-1.0,-0.63,-0.19,0.3, 0.8];
const m20 = [1.98,2.0,1.75,1.25,0.78,0.37,0.02,-0.28,-0.55,-0.78, -0.98,-1.16,-1.32,-1.46,-1.59,-1.71,-1.82,-1.92,-2.02,-2.11, -2.19,-2.27,-2.34,-2.4,-2.46,-2.51,-2.56,-2.6,-2.64,-2.67, -2.69,-2.7,-2.7,-2.69,-2.67,-2.64,-2.6,-2.54,-2.47,-2.39, -2.29,-2.17,-2.03,-1.86,-1.65,-1.4,-1.1,-0.73,-0.29,0.2, 0.7];

const panelA = [a1,a2,a3,a4,a5,a6,a7,a8,a9,a10,a11,a12,a13,a14,a15,a16];
const panelB = [b1,b2,b3,b4,b5,b6,b7,b8,b9,b10,b11,b12,b13,b14,b15,b16];
const panelCBodies = [cBody0,cBody17,cBody26,cBody33,cBody50];
const panelCHeads = [cHeads0,cHeads17,cHeads26,cHeads33,cHeads50];
const panelD = [m1,m2,m3,m4,m5,m6,m7,m8,m9,m10,m11,m12,m13,m14,m15,m16,m17,m18,m19,m20];

// ---------------- drawing ----------------
const FONT = "'Liberation Sans', Arial, Helvetica, sans-serif";
const svg = d3.select("#chart");
const offsets = [[0,0],[454,0],[0,403],[454,403]];
const box = {l:84, r:416, t:56, b:280};
const xDomain = [-1.83, 51.8];
const yDomain = [-3.88, 6.44];

function toPts(vals, fr, start){
  const s = start || 0;
  const pts = [];
  for (let i = s; i < Math.min(vals.length, fr.length); i++) pts.push([fr[i], vals[i]]);
  return pts;
}

function makePanel(k){
  const g = svg.append("g").attr("transform", `translate(${offsets[k][0]},${offsets[k][1]})`);
  const x = d3.scaleLinear().domain(xDomain).range([box.l, box.r]);
  const y = d3.scaleLinear().domain(yDomain).range([box.b, box.t]);
  const cid = "clip" + k;
  g.append("clipPath").attr("id", cid).append("rect")
    .attr("x", box.l).attr("y", box.t).attr("width", box.r - box.l).attr("height", box.b - box.t);
  const plot = g.append("g").attr("clip-path", `url(#${cid})`);

  const xa = g.append("g").attr("transform", `translate(0,${box.b})`)
    .call(d3.axisBottom(x).tickValues(xTicks).tickSize(9).tickPadding(15).tickFormat(d => String(d)));
  xa.select(".domain").remove();
  xa.attr("font-size", 16).attr("font-family", FONT);
  xa.selectAll("line").attr("stroke", "#222");
  xa.selectAll("text").attr("fill", "#111");

  const ya = g.append("g").attr("transform", `translate(${box.l},0)`)
    .call(d3.axisLeft(y).tickValues(yTicks).tickSize(9).tickFormat(d => String(d)));
  ya.select(".domain").remove();
  ya.attr("font-size", 16).attr("font-family", FONT);
  ya.selectAll("line").attr("stroke", "#222");
  ya.selectAll("text").attr("x", null).attr("dy", null).attr("fill", "#111")
    .attr("text-anchor", "middle").attr("transform", "translate(-22.5,0) rotate(-90)");

  g.append("text").attr("x", (box.l + box.r) / 2).attr("y", 25.5).attr("text-anchor", "middle")
    .attr("font-family", FONT).attr("font-weight", "bold").attr("font-size", 19.2).attr("fill", "#000")
    .text(titles[k]);
  g.append("text").attr("x", (box.l + box.r) / 2).attr("y", 354).attr("text-anchor", "middle")
    .attr("font-family", FONT).attr("font-size", 16).attr("fill", "#111").text(xLabel);
  g.append("text").attr("transform", `translate(23.5,${(box.t + box.b) / 2}) rotate(-90)`).attr("text-anchor", "middle")
    .attr("font-family", FONT).attr("font-size", 16).attr("fill", "#111").text(yLabel);

  return {g, plot, x, y};
}

function drawLines(P, curves, fr, width, curve){
  const line = d3.line().x(d => P.x(d[0])).y(d => P.y(d[1])).curve(curve);
  P.plot.selectAll(null).data(curves).enter().append("path")
    .attr("d", d => line(toPts(d, fr)))
    .attr("fill", "none").attr("stroke", "#000").attr("stroke-width", width)
    .attr("stroke-linejoin", "miter");
}

function drawBox(P){
  P.g.append("rect").attr("x", box.l).attr("y", box.t).attr("width", box.r - box.l).attr("height", box.b - box.t)
    .attr("fill", "none").attr("stroke", "#222").attr("stroke-width", 1.2);
}

const PA = makePanel(0);
drawLines(PA, panelA, medFreqs, 1.2, d3.curveLinear);
drawBox(PA);

const PB = makePanel(1);
drawLines(PB, panelB, medFreqs, 1.2, d3.curveLinear);
drawBox(PB);

const PC = makePanel(2);
{
  const smooth = d3.curveCatmullRom.alpha(0.5);
  const line = d3.line().x(d => PC.x(d[0])).y(d => PC.y(d[1])).curve(smooth);
  panelCBodies.forEach((body, gi) => {
    PC.plot.append("path").attr("d", line(toPts(body, freqs, 2)))
      .attr("fill", "none").attr("stroke", "#000").attr("stroke-width", 2.4);
    panelCHeads[gi].forEach(h => {
      const pts = [[freqs[0], h[0]], [freqs[1], h[1]], [freqs[2], h[2]], [freqs[3], body[3]]];
      PC.plot.append("path").attr("d", line(pts))
        .attr("fill", "none").attr("stroke", "#000").attr("stroke-width", 1);
    });
  });
  cTails50.forEach(t => {
    const pts = [[freqs[46], cBody50[46]], [freqs[47], cBody50[47]], [freqs[48], t[0]], [freqs[49], t[1]], [freqs[50], t[2]]];
    PC.plot.append("path").attr("d", line(pts))
      .attr("fill", "none").attr("stroke", "#000").attr("stroke-width", 1);
  });
}
drawBox(PC);

const PD = makePanel(3);
drawLines(PD, panelD, freqs, 1.1, d3.curveCatmullRom.alpha(0.5));
drawBox(PD);
</script>
</body></html>
